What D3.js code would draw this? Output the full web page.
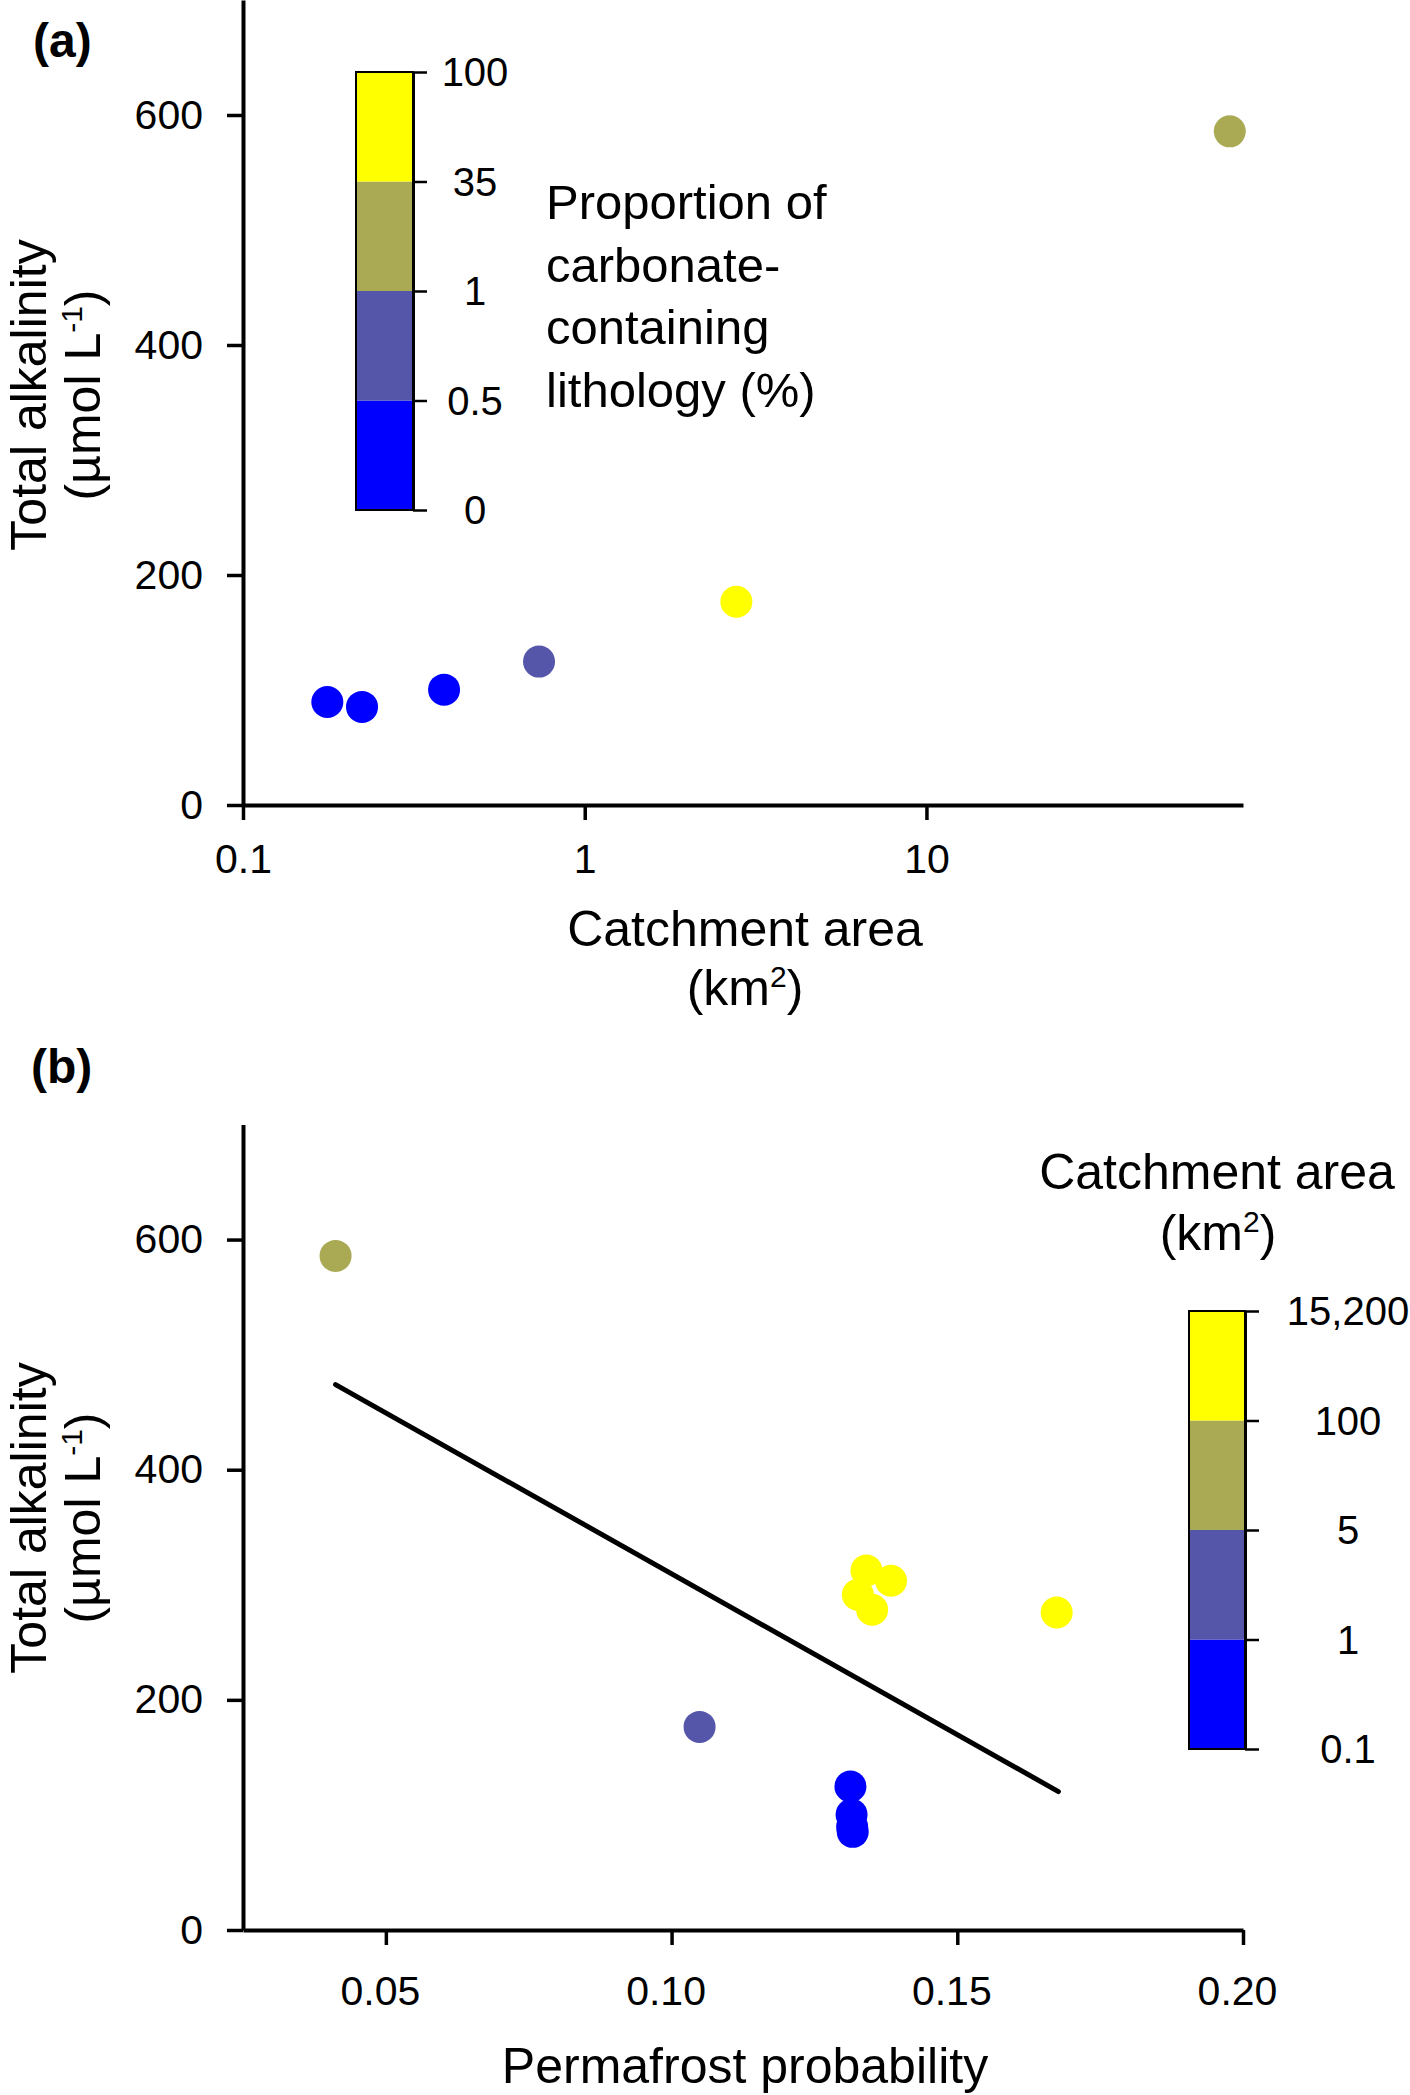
<!DOCTYPE html>
<html>
<head>
<meta charset="utf-8">
<script src="https://cdn.jsdelivr.net/npm/d3@7"></script>
<style>
  html, body { margin: 0; padding: 0; background: #fff; }
  svg { display: block; font-family: "Liberation Sans", Arial, sans-serif; }
</style>
</head>
<body>
<svg id="chart" width="1410" height="2095"></svg>
<script>
// ---------- DATA ----------
// Panel (a): catchment area (km2) vs total alkalinity, coloured by carbonate lithology class
const catchA = [0.1765, 0.223, 0.3876, 0.735, 2.778, 77.2];
const alkA = [89.6, 85.3, 100.3, 124.7, 176.7, 585.8];
const lithClassA = [0, 0, 0, 1, 3, 2];

// Panel (b): permafrost probability vs total alkalinity, coloured by catchment-area class
const permB = [0.0412, 0.1049, 0.1313, 0.1315, 0.1316, 0.1317, 0.1341, 0.1384, 0.1326, 0.1351, 0.1674];
const alkB = [585.8, 176.5, 124.7, 100.3, 89.6, 85.3, 312.4, 303.5, 291.3, 278.3, 275.9];
const areaClassB = [2, 1, 0, 0, 0, 0, 3, 3, 3, 3, 3];

// Regression line in panel (b): end points
const fitX = [0.0412, 0.1677];
const fitY = [474, 120.3];

// Class colours (low to high)
const classColors = ["#0000FF", "#5555AA", "#AAAA55", "#FFFF00"];

// Colour-bar boundary labels (low to high)
const lithBounds = ["0", "0.5", "1", "35", "100"];
const areaBounds = ["0.1", "1", "5", "100", "15,200"];

// Axis ticks
const yTicks = [0, 200, 400, 600];
const xTicksA = [0.1, 1, 10];
const xTicksB = [0.05, 0.10, 0.15, 0.20];

// ---------- DRAW ----------
const svg = d3.select("#chart");
svg.append("rect").attr("width", 1410).attr("height", 2095).attr("fill", "#fff");

const FONT_TICK = 41;
const FONT_TITLE = 50;

function styleAxis(g) {
  g.select(".domain").attr("stroke", "#000").attr("stroke-width", 4);
  g.selectAll(".tick line").attr("stroke", "#000").attr("stroke-width", 3.5);
  g.selectAll(".tick text").attr("fill", "#000").attr("font-size", FONT_TICK)
    .attr("font-family", "'Liberation Sans', Arial, sans-serif");
}

// ----- Panel (a) -----
const xA = d3.scaleLog().domain([0.1, 84.4]).range([243, 1243]);
const yA = d3.scaleLinear().domain([0, 700]).range([805, 0]);

svg.append("g").attr("transform", "translate(243,0)")
  .call(d3.axisLeft(yA).tickValues(yTicks).tickSize(16).tickSizeOuter(0).tickPadding(24))
  .call(styleAxis);
svg.append("g").attr("transform", "translate(0,805)")
  .call(d3.axisBottom(xA).tickValues(xTicksA).tickFormat(d3.format("~g")).tickSize(15).tickSizeOuter(0).tickPadding(24))
  .call(styleAxis);

svg.append("g").selectAll("circle")
  .data(catchA.map((c, i) => ({ x: c, y: alkA[i], k: lithClassA[i] })))
  .join("circle")
  .attr("cx", d => xA(d.x)).attr("cy", d => yA(d.y)).attr("r", 16)
  .attr("fill", d => classColors[d.k]);

// colour bar
function colorBar(x, yTop, yBottom, width, labels, labelX) {
  const pos = d3.scaleLinear().domain([0, labels.length - 1]).range([yBottom, yTop]);
  const g = svg.append("g");
  g.selectAll("rect.seg")
    .data(classColors)
    .join("rect").attr("class", "seg")
    .attr("x", x).attr("width", width)
    .attr("y", (c, i) => pos(i + 1)).attr("height", (c, i) => pos(i) - pos(i + 1))
    .attr("fill", c => c);
  g.append("rect").attr("x", x).attr("y", yTop).attr("width", width).attr("height", yBottom - yTop)
    .attr("fill", "none").attr("stroke", "#000").attr("stroke-width", 2);
  const ax = g.append("g").attr("transform", `translate(${x + width},0)`)
    .call(d3.axisRight(pos).tickValues(d3.range(labels.length)).tickSize(14).tickSizeOuter(0).tickFormat(() => ""));
  ax.select(".domain").attr("stroke", "#000").attr("stroke-width", 3);
  ax.selectAll(".tick line").attr("stroke", "#000").attr("stroke-width", 2.5);
  g.selectAll("text.lbl").data(labels).join("text").attr("class", "lbl")
    .attr("x", labelX).attr("y", (d, i) => pos(i)).attr("dy", "0.36em")
    .attr("text-anchor", "middle").attr("font-size", 40).attr("fill", "#000")
    .text(d => d);
}
colorBar(356, 72, 510, 57, lithBounds, 475);

// legend title (a)
const legA = ["Proportion of", "carbonate-", "containing", "lithology (%)"];
svg.append("g").selectAll("text").data(legA).join("text")
  .attr("x", 546).attr("y", (d, i) => 219 + i * 62.5)
  .attr("font-size", 49).attr("fill", "#000").text(d => d);

// axis titles (a)
svg.append("text").attr("x", 745).attr("y", 946).attr("text-anchor", "middle")
  .attr("font-size", FONT_TITLE).text("Catchment area");
const kmA = svg.append("text").attr("x", 745).attr("y", 1005).attr("text-anchor", "middle")
  .attr("font-size", FONT_TITLE);
kmA.append("tspan").text("(km");
kmA.append("tspan").attr("font-size", 30).attr("dy", -18).text("2");
kmA.append("tspan").attr("dy", 18).text(")");

function yTitle(cy) {
  svg.append("text").attr("transform", `translate(46,${cy}) rotate(-90)`)
    .attr("text-anchor", "middle").attr("font-size", FONT_TITLE).text("Total alkalinity");
  const t = svg.append("text").attr("transform", `translate(100,${cy}) rotate(-90)`)
    .attr("text-anchor", "middle").attr("font-size", FONT_TITLE);
  t.append("tspan").text("(µmol L");
  t.append("tspan").attr("font-size", 30).attr("dy", -18).text("-1");
  t.append("tspan").attr("dy", 18).text(")");
}
yTitle(395);

svg.append("text").attr("x", 33).attr("y", 57).attr("font-size", 48).attr("font-weight", "bold").text("(a)");

// ----- Panel (b) -----
const xB = d3.scaleLinear().domain([0.025, 0.20]).range([243, 1243]);
const yB = d3.scaleLinear().domain([0, 700]).range([1930, 1124.5]);

svg.append("g").attr("transform", "translate(243,0)")
  .call(d3.axisLeft(yB).tickValues(yTicks).tickSize(16).tickSizeOuter(0).tickPadding(24))
  .call(styleAxis);
const axB = svg.append("g").attr("transform", "translate(0,1930)")
  .call(d3.axisBottom(xB).tickValues(xTicksB).tickFormat(d3.format(".2f")).tickSize(15).tickSizeOuter(0).tickPadding(31))
  .call(styleAxis);
axB.selectAll(".tick text").attr("dx", -6);

// regression line
svg.append("path")
  .datum(fitX.map((x, i) => [x, fitY[i]]))
  .attr("d", d3.line().x(d => xB(d[0])).y(d => yB(d[1])))
  .attr("stroke", "#000").attr("stroke-width", 5).attr("fill", "none").attr("stroke-linecap", "round");

svg.append("g").selectAll("circle")
  .data(permB.map((p, i) => ({ x: p, y: alkB[i], k: areaClassB[i] })))
  .join("circle")
  .attr("cx", d => xB(d.x)).attr("cy", d => yB(d.y)).attr("r", 16)
  .attr("fill", d => classColors[d.k]);

colorBar(1189, 1311, 1749, 56, areaBounds, 1348);

svg.append("text").attr("x", 1217).attr("y", 1189).attr("text-anchor", "middle")
  .attr("font-size", FONT_TITLE).text("Catchment area");
const kmB = svg.append("text").attr("x", 1218).attr("y", 1250).attr("text-anchor", "middle")
  .attr("font-size", FONT_TITLE);
kmB.append("tspan").text("(km");
kmB.append("tspan").attr("font-size", 30).attr("dy", -18).text("2");
kmB.append("tspan").attr("dy", 18).text(")");

svg.append("text").attr("x", 745).attr("y", 2083).attr("text-anchor", "middle")
  .attr("font-size", FONT_TITLE).text("Permafrost probability");

yTitle(1518);

svg.append("text").attr("x", 31).attr("y", 1083).attr("font-size", 48).attr("font-weight", "bold").text("(b)");
</script>
</body>
</html>
